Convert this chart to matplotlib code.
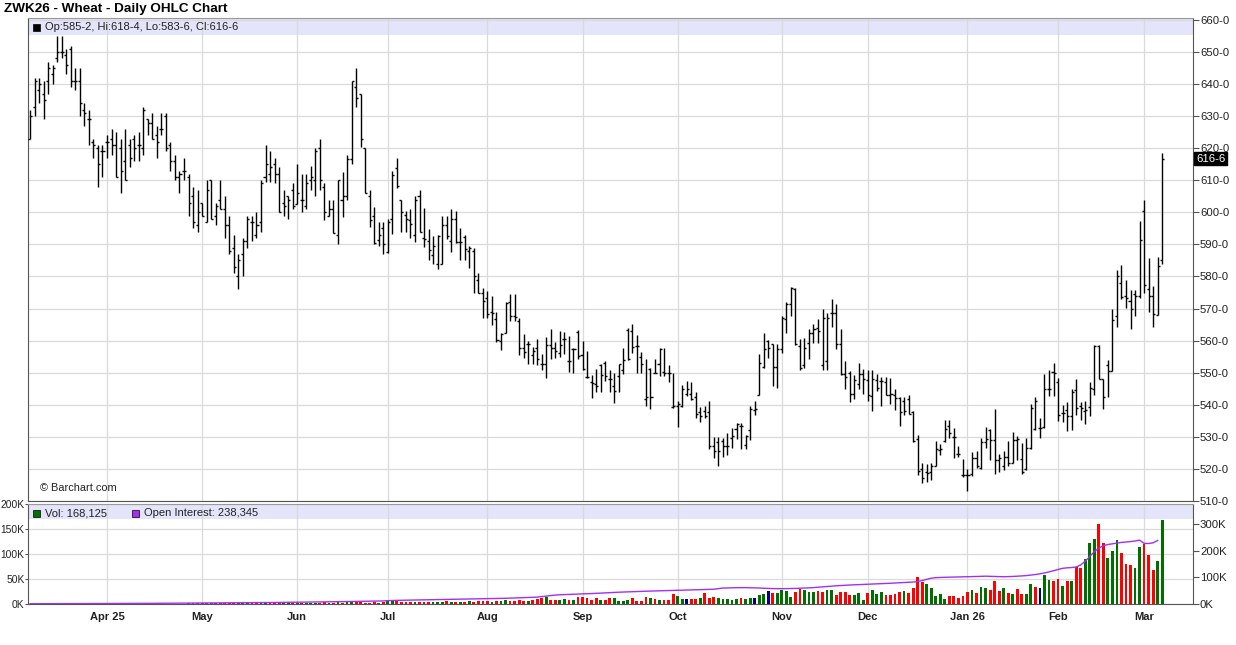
import numpy as np
import pandas as pd
import matplotlib
matplotlib.use('Agg')
import matplotlib.pyplot as plt
from matplotlib.patches import Rectangle

plt.rcParams['font.family'] = ['Liberation Sans', 'DejaVu Sans']

# Trading calendar of the ZWK26 chart (CBOT holidays removed).
START, END = '2025-03-07', '2026-03-06'
HOLIDAYS = ['2025-04-18', '2025-05-26', '2025-06-19', '2025-07-04', '2025-09-01',
            '2025-11-27', '2025-12-25', '2026-01-01', '2026-01-19', '2026-02-16']

# Daily OHLC, cents/bushel.
OPEN = [
    623, 633, 638, 637, 641, 643, 648, 650, 649, 651,
    641, 641, 632, 629, 622, 620, 619, 622, 623, 621,
    620, 616, 621, 623, 621, 620, 629, 628, 624, 626,
    630, 621, 616, 611, 613, 611, 605, 596, 603, 597,
    610, 599, 604, 601, 596, 589, 580, 587, 591, 597,
    593, 597, 611, 612, 615, 612, 603, 605, 607, 602.5,
    604, 602, 610, 610, 620, 608, 599, 601, 593, 604,
    605, 616.5, 639, 637, 620, 605, 599, 591.5, 595, 587.5,
    597.8, 613.8, 604, 599.3, 597.6, 592.8, 605, 592, 591, 586.6,
    583.8, 583.8, 596, 591, 598, 590.7, 592.4, 588, 588, 579,
    575, 573.4, 569, 566.7, 560, 562.3, 572, 567.7, 566, 557.8,
    559, 555.4, 557.8, 552.6, 552.6, 558.5, 557.8, 556, 560.4, 553.6,
    557.3, 562.7, 555.4, 548.6, 547.1, 546.4, 552.3, 553, 548, 546,
    549, 551, 563.4, 563, 558.4, 554.8, 541.8, 551.2, 550, 552.7,
    550.1, 550, 539.2, 539.7, 539.7, 543.3, 543.3, 542.3, 537.6, 538.1,
    537.8, 527.2, 528.4, 528.6, 527.3, 529.7, 532.5, 533.3, 527.6, 532,
    538.5, 543.2, 551.9, 559.9, 558.9, 551.9, 557.5, 566.9, 571.4, 576,
    558.3, 552.3, 559.4, 562.5, 563.8, 552.3, 553.6, 568.5, 568.5, 558.9,
    549.5, 549.8, 543.5, 546.4, 549.5, 547.7, 542.7, 547.7, 547.4, 547.1,
    542.9, 543.2, 542.2, 541.1, 541.9, 537.7, 529.2, 520, 519, 519,
    521, 525.8, 528.6, 533.5, 530, 524.7, 518.2, 518.2, 518.5, 523.4,
    520.3, 528.3, 532, 528.9, 522.9, 521, 523.8, 521.7, 529, 523.1,
    520, 526.6, 532.5, 532.8, 533, 544.8, 550.2, 547, 537.5, 538.5,
    536.4, 544.7, 539.5, 538, 539.3, 545, 558.4, 548, 552.5, 550.6,
    567.6, 578, 574, 572.4, 574.6, 573.8, 600.3, 576, 574, 568.1,
    585.25,
]
HIGH = [
    632, 642, 642, 641, 647, 646, 655, 655, 651, 652,
    645, 645, 634, 632, 623, 621, 621, 624, 626, 625,
    623, 626, 623, 624, 625, 633, 629, 631, 627, 631,
    631, 622, 618, 613, 617, 612, 608, 607, 603, 610,
    610, 603, 610, 605, 599, 593, 587, 592, 599, 599,
    600, 610, 621, 619, 617, 614, 607, 605, 609, 615,
    612, 612, 614.5, 620, 623, 609, 604, 604, 610, 612.5,
    618, 641, 645, 637, 620, 607, 601.7, 597, 597, 598,
    613, 617, 604, 600.4, 601, 605, 607, 601.4, 594.7, 592.6,
    592.8, 598.8, 599, 601, 600.4, 595.2, 592.8, 589.5, 589, 581.2,
    576.5, 575.4, 574, 568.8, 562.5, 572, 574.5, 574.5, 567.2, 562,
    560, 558, 560.6, 555.7, 561, 563.5, 559.6, 563, 562.7, 561.3,
    557.8, 563.3, 559.9, 556.8, 549.2, 551.3, 552.6, 553.8, 551, 550,
    552.7, 557.6, 564, 565.2, 561.8, 556.4, 554.3, 551.4, 554.3, 557.6,
    557.6, 552.4, 550, 541.2, 546.1, 547.5, 547.2, 543.9, 539.2, 539.7,
    541.2, 529.8, 529.8, 529.7, 531.3, 532.8, 534.2, 534.2, 530.7, 539.6,
    541.1, 555.7, 562.5, 560.2, 558.9, 558.9, 567.7, 571.9, 576.6, 576.3,
    560.4, 560.9, 563.5, 565.1, 566.7, 570, 568.7, 573.1, 571.4, 563.5,
    553.6, 550.5, 549.2, 552.9, 551.2, 550.8, 551, 549.5, 548.8, 548.8,
    548.4, 545, 542.5, 542.5, 543.2, 538, 530.7, 521.9, 521.4, 521.9,
    528.6, 527.9, 535.2, 535.2, 532.8, 527, 523.1, 520, 525.2, 525.5,
    529.7, 533.1, 532.3, 538.8, 524.5, 525.5, 528.6, 531.5, 530.2, 528.1,
    529.7, 540.4, 542.5, 535.9, 549.5, 551, 552.9, 548.4, 539.8, 540.8,
    544.9, 548, 540.8, 541.1, 547, 558.7, 558.7, 548, 553.9, 569.8,
    582.1, 583.7, 579, 575.9, 575.9, 597.2, 603.9, 585.7, 577.1, 586,
    618.5,
]
LOW = [
    623, 630, 634, 629, 637, 640, 647, 648, 643, 639,
    638, 630, 627, 621, 617, 608, 611, 617, 618, 611,
    606, 610, 614, 616, 616, 618, 624, 623, 617, 624,
    619, 613, 610, 606, 610, 599, 595, 594, 599, 597,
    598, 596, 601, 592, 587, 581, 576, 580, 589, 591,
    592, 594, 609.5, 609.5, 609, 600, 599, 598, 601, 602.5,
    600, 601, 607, 605, 607, 597.5, 599, 593.5, 590, 598.5,
    604, 615, 633, 620.5, 606, 595.5, 590, 589.5, 587, 587.4,
    593.4, 607.6, 594, 594, 592, 590.7, 594, 589.3, 585.3, 583.8,
    582.2, 583.8, 591.8, 587.6, 590.5, 585.3, 585.3, 582.7, 575, 575,
    567.2, 567.2, 564.8, 559.6, 557, 562.3, 566, 566, 555.4, 554.7,
    552.6, 552.6, 552.3, 551, 548.4, 554.2, 554.7, 555, 555.7, 550.2,
    549.8, 554.2, 551, 548.4, 542.2, 544, 544, 547.5, 543.9, 540.7,
    543.9, 549.6, 554, 556.3, 550, 550, 539.7, 538.6, 549.9, 549,
    549, 547.2, 538.9, 533.2, 539.2, 542.8, 541.5, 536, 534.7, 536,
    526.1, 523.5, 520.8, 523.8, 524.2, 526.6, 529.2, 526.3, 526.3, 529,
    536.7, 543.2, 551.6, 554.7, 546, 545.3, 556, 562.5, 567.7, 558.5,
    550.8, 551.6, 554.2, 559.4, 559.4, 551, 551, 564.4, 557.5, 549.2,
    545, 540.8, 541.7, 545, 543.5, 541.2, 538, 544.3, 539.6, 542.9,
    540.1, 538.5, 533.5, 536.7, 537, 528.4, 518.2, 515.6, 515.8, 516.5,
    521, 524.2, 528.3, 529.7, 523.4, 523.8, 517.5, 513, 517.7, 520.3,
    520, 526.6, 522.9, 518.5, 519, 519.6, 521, 521.7, 522.7, 518.5,
    519.6, 526.2, 532.1, 529.7, 532.8, 542.7, 542.7, 534.9, 534.6, 531.7,
    532, 536.9, 535.2, 534.1, 536.4, 543.2, 548, 538.7, 542.3, 550.6,
    564.4, 573, 570.2, 563.6, 567.6, 573.3, 574.8, 568.8, 564.4, 568.1,
    583.75,
]
CLOSE = [
    630, 641, 640, 635, 645, 645, 650, 650, 646, 641,
    641, 634, 631, 629, 621, 615, 619, 622, 621, 611,
    613, 610, 617, 620, 621, 632, 628, 623, 622, 626,
    620, 616, 611, 612, 613, 603, 597, 600, 599, 607,
    598, 602, 601, 596, 588, 583, 585, 591, 598, 597,
    596, 609, 615, 614, 612, 600, 602, 604, 602, 606,
    604, 609, 611, 619, 610, 600, 601, 593.5, 610, 605,
    616.5, 641, 635.5, 623, 606, 597.5, 590.5, 592.8, 590, 597,
    611.7, 608.3, 600, 597.8, 596.5, 604, 594, 591.6, 588.4, 589.5,
    592.6, 596.2, 592.6, 598, 590.7, 590.7, 588.5, 589, 580.2, 575,
    572.4, 568.2, 568.5, 560.2, 562, 571.7, 567.7, 567.5, 557.8, 556.5,
    559, 556.8, 554.2, 552.6, 558.5, 557.8, 556.8, 558.5, 560.6, 553.6,
    557.3, 555.2, 551.3, 548.6, 546.9, 546, 549.2, 549, 548, 544.4,
    552.7, 554, 554.3, 558, 558.4, 552.7, 542.3, 542.3, 550, 557.4,
    550, 550, 539.7, 540.2, 544.9, 545, 541.8, 537.1, 536.6, 536.4,
    527.2, 525.6, 525.6, 527.3, 527.3, 530.4, 533.9, 533.3, 530.2, 538.8,
    538.8, 553.1, 557.5, 557.8, 551.9, 557.5, 567.2, 571.4, 576.3, 558.9,
    551.6, 557.8, 562.5, 563.5, 563, 567, 567, 568.7, 558.9, 549.5,
    548.8, 543.5, 547.7, 549.5, 548.1, 542.9, 548.1, 545.3, 547.4, 543.2,
    543.5, 542.2, 537.7, 538, 537, 528.6, 519.3, 517.2, 518.8, 520.8,
    526.2, 526.2, 532.3, 531.2, 530, 524.5, 518.2, 518.2, 523.4, 521,
    528.3, 529.2, 528.9, 522.9, 523.4, 523.8, 521.7, 529, 529.2, 519,
    526.6, 539.1, 541.1, 532.8, 544.8, 544.8, 550, 536.7, 537.5, 536.4,
    543.9, 539, 539, 538.3, 545.2, 558.4, 548, 542.4, 550.6, 566.5,
    580.2, 573.6, 573.3, 569.8, 573.8, 591.4, 577.4, 574, 568.4, 583.3,
    616.75,
]

# Daily volume (thousands of contracts)
VOLUME_K = [
    0.3, 0.2, 0.4, 0.3, 0.2, 0.3, 0.5, 0.4, 0.3, 0.2,
    0.3, 0.4, 0.3, 0.5, 0.4, 0.6, 0.3, 0.4, 0.5, 0.4,
    0.6, 0.5, 0.4, 0.6, 0.5, 0.7, 0.5, 0.6, 0.8, 0.6,
    0.7, 0.9, 0.8, 1.0, 0.9, 1.2, 1.4, 1.1, 1.3, 1.6,
    1.2, 1.4, 1.5, 1.8, 1.9, 1.6, 1.4, 1.7, 1.5, 1.3,
    1.6, 1.8, 2.1, 1.7, 1.9, 2.2, 1.6, 1.5, 1.8, 2.6,
    2.4, 2.0, 2.2, 2.8, 2.5, 3.1, 2.7, 2.4, 3.3, 2.9,
    3.5, 4.2, 3.6, 3.9, 3.0, 2.6, 3.2, 2.8, 3.4, 8.5,
    6.8, 5.2, 4.6, 4.1, 3.8, 4.4, 4.0, 4.9, 3.6, 3.9,
    4.7, 3.2, 5.1, 4.3, 3.5, 4.0, 4.5, 5.8, 4.2, 5.5,
    6.4, 5.6, 4.8, 5.9, 6.6, 7.1, 6.3, 5.8, 7.4, 6.9,
    6.4, 7.8, 9.5, 12.2, 13.6, 7.6, 8.3, 7.1, 9.4, 8.2,
    7.4, 14.2, 13.1, 11.5, 8.8, 11.2, 8.1, 7.6, 12.3, 12,
    7, 7, 9, 12, 7, 7, 15, 12, 11, 9,
    9, 9, 21, 17, 10, 10, 10, 10, 12, 23,
    12, 15, 12, 10, 10, 9, 10, 12, 11, 12,
    12, 19, 21, 27, 23, 23, 29, 27, 15, 25,
    31, 29, 25, 25, 26, 25, 29, 29, 19, 25,
    25, 19, 19, 23, 9, 23, 29, 21, 25, 19,
    19, 21, 25, 27, 23, 33, 55, 45, 41, 33,
    17, 21, 11, 17, 17, 13, 17, 25, 29, 23,
    35, 33, 29, 47, 27, 33, 23, 21, 31, 21,
    21, 41, 35, 33, 59, 49, 47, 51, 37, 47,
    47, 75, 73, 90, 123, 131, 160, 123, 93, 107,
    129, 103, 81, 79, 73, 115, 121, 99, 69, 87,
    168.125,
]
# Volume bar colour codes for the recent sessions (g = up, r = down, n = unchanged)
VOL_DIR_RECENT = ("ggggrrrrgr" "grrrggnrrg" "rrrgggggrg" "gnggnrgggg" "rrgggrrggr"
                  "rrrgggrggg" "rrrrgrrrrg" "ggggrrrrrg" "rggrrrgrgr" "rggrnggrrg"
                  "rgrrgggrrg" "ggrrrggrrr" "gg")

# Open interest (thousands), not yet published for the last session
OPEN_INT_K = [
    1.0, 1.0, 1.1, 1.1, 1.2, 1.2, 1.3, 1.3, 1.4, 1.4, 1.5, 1.5, 1.6, 1.6, 1.7, 1.7, 1.8,
    1.9, 1.9, 2.0, 2.1, 2.1, 2.2, 2.3, 2.3, 2.4, 2.5, 2.5, 2.6, 2.7, 2.8, 2.8, 2.9, 3.0,
    3.1, 3.2, 3.2, 3.3,
    3.4, 3.5, 3.6, 3.7, 3.9, 4.0, 4.1, 4.3, 4.4, 4.5, 4.7, 4.8, 5.0, 5.1, 5.3, 5.4, 5.6,
    5.8, 5.9, 6.1, 6.3,
    6.5, 6.7, 6.9, 7.1, 7.4, 7.6, 7.8, 8.1, 8.3, 8.6, 8.8, 9.1, 9.4, 9.7, 10.0, 10.2,
    10.5, 10.8, 11.1, 11.5,
    12.5, 13.2, 13.6, 13.9, 14.2, 14.6, 14.9, 15.3, 15.6, 15.9, 16.2, 16.4, 16.7, 17.0,
    17.2, 17.5, 17.8, 18.0, 18.3, 18.6, 18.9, 19.2,
    19.5, 19.9, 20.3, 20.8, 21.4, 22.0, 22.5, 23.0, 23.6, 24.2, 24.9, 25.8, 27.5, 29.6,
    31.8, 33.5, 34.6, 35.2, 35.9, 36.4, 36.8,
    37.3, 38.0, 39.2, 40.1, 41.0, 41.9, 42.8, 43.6, 44.2, 44.9, 45.5, 46.1, 46.8, 47.4,
    48.0, 48.5, 49.1, 49.6, 50.2, 50.7, 51.2,
    51.6, 52.1, 52.5, 53.0, 53.4, 53.9, 54.3, 54.8, 55.3, 57.5, 59.8, 60.4, 60.8, 61.2,
    61.4, 61.3, 61.0, 60.5, 59.8, 59.0, 58.3, 57.8, 57.5,
    57.4, 57.6, 57.9, 58.4, 59.0, 59.8, 60.6, 61.5, 62.9, 64.5, 66.0, 67.2, 68.3, 69.4,
    70.3, 71.2, 71.9, 72.5, 73.1,
    73.8, 74.6, 75.4, 76.2, 77.0, 77.8, 78.7, 79.5, 80.3, 81.2, 82.4, 84.2, 88.0, 92.5,
    96.8, 98.9, 99.6, 100.1, 100.5, 100.8, 101.2, 101.5,
    102.0, 102.6, 103.2, 103.9, 104.3, 103.8, 103.0, 102.4, 102.2, 102.6, 103.3, 104.2,
    105.3, 106.5, 108.4, 110.6, 113.2, 116.5, 120.3, 124.8,
    129.7, 133.8, 135.6, 136.7, 138.9, 146.5, 160.2, 178.5, 196.3, 209.8, 218.4, 223.1,
    225.6, 228.3, 230.9, 232.4, 234.1, 236.2, 239.6,
    227.4, 226.8, 229.5, 238.345,
]

PRICE_TICKS = list(range(510, 661, 10))
VOL_TICKS_K = [0, 50, 100, 150, 200]
OI_TICKS_K = [0, 100, 200, 300]

W, H = 1236, 645
GREEN, RED, NAVY = '#006f00', '#ff0000', '#000080'
PURPLE = '#a330f0'
BAND = '#e4e4fa'
GRID = '#dadada'
AXIS_FS = 8.2
LEGEND_FS = 8


def px_rect(left, top, right, bottom):
    return [left / W, 1 - bottom / H, (right - left) / W, (bottom - top) / H]


def eighths(p):
    whole = int(np.floor(p + 1e-9))
    return f'{whole}-{int(round((p - whole) * 8))}'


def main():
    n = len(CLOSE)
    x = np.arange(n)
    dates = pd.bdate_range(START, END, freq='C', holidays=HOLIDAYS)[:n]
    month_start = [i for i in range(1, n) if dates[i].month != dates[i - 1].month]
    month_lab = []
    for k, i in enumerate(month_start):
        d = dates[i]
        month_lab.append(d.strftime('%b') + (d.strftime(' %y') if k == 0 or d.month == 1 else ''))

    fig = plt.figure(figsize=(W / 100, H / 100), dpi=100)
    fig.patch.set_facecolor('white')

    x_lo, x_hi = -0.45, n - 1 + 6.8
    # ---- price panel ----
    ax = fig.add_axes(px_rect(28, 18, 1193, 501))
    ax.set_xlim(x_lo, x_hi)
    ax.set_ylim(510, 660.6)
    ax.add_patch(Rectangle((0, 1 - 17 / 483), 1, 17 / 483, transform=ax.transAxes,
                           facecolor=BAND, edgecolor='none', zorder=0))
    ax.vlines(x, LOW, HIGH, color='black', lw=1.0, zorder=3)
    ax.hlines(OPEN, x - 0.45, x, color='black', lw=1.0, zorder=3)
    ax.hlines(CLOSE, x, x + 0.45, color='black', lw=1.0, zorder=3)

    ax.set_yticks(PRICE_TICKS)
    ax.set_yticklabels([f'{p}-0' for p in PRICE_TICKS])
    ax.yaxis.tick_right()
    ax.tick_params(axis='y', direction='out', length=4, width=0.8, color='#555555',
                   labelsize=AXIS_FS, labelcolor='#222222', pad=1)
    ax.set_xticks(month_start)
    ax.tick_params(axis='x', length=0, labelbottom=False)
    ax.grid(True, color=GRID, lw=0.9, zorder=0)
    ax.set_axisbelow(True)
    for side in ['left', 'right', 'bottom']:
        ax.spines[side].set_color('#555555')
    ax.spines['top'].set_color('#999999')

    ax.text(1.0 + 3 / 1165, CLOSE[-1], eighths(CLOSE[-1]), transform=ax.get_yaxis_transform(),
            fontsize=AXIS_FS, color='white', va='center', ha='left',
            bbox=dict(boxstyle='square,pad=0.15', facecolor='black', edgecolor='black'))

    ax.add_patch(Rectangle((5 / 1165, 1 - 13 / 483), 7 / 1165, 7 / 483, transform=ax.transAxes,
                           facecolor='black', edgecolor='black', lw=0.5, zorder=4))
    ax.text(17 / 1165, 1 - 9.5 / 483,
            f'Op:{eighths(OPEN[-1])}, Hi:{eighths(HIGH[-1])}, '
            f'Lo:{eighths(LOW[-1])}, Cl:{eighths(CLOSE[-1])}',
            transform=ax.transAxes, fontsize=LEGEND_FS, va='center', ha='left',
            color='#222222', zorder=4)
    ax.text(12 / 1165, 13 / 483, '\u00a9 Barchart.com', transform=ax.transAxes,
            fontsize=7.9, va='center', ha='left', color='#222222')

    fig.text(4 / W, 1 - 9 / H, 'ZWK26 - Wheat - Daily OHLC Chart', fontsize=9.7,
             fontweight='bold', va='center', ha='left')

    # ---- volume / open interest panel ----
    av = fig.add_axes(px_rect(28, 504, 1193, 604))
    av.set_xlim(x_lo, x_hi)
    av.set_ylim(0, 200)
    av.add_patch(Rectangle((0, 0.85), 1, 0.15, transform=av.transAxes,
                           facecolor=BAND, edgecolor='none', zorder=0))
    chg = np.diff(CLOSE, prepend=CLOSE[0])
    n_old = n - len(VOL_DIR_RECENT)
    codes = ['g' if c >= 0 else 'r' for c in chg[:n_old]] + list(VOL_DIR_RECENT)
    cmap = {'g': GREEN, 'r': RED, 'n': NAVY}
    av.bar(x, VOLUME_K, width=0.62, color=[cmap[c] for c in codes], zorder=2)
    av.set_yticks(VOL_TICKS_K)
    av.set_yticklabels([f'{v}K' for v in VOL_TICKS_K])
    av.tick_params(axis='y', direction='out', length=2, width=0.8, color='#555555',
                   labelsize=7.4, labelcolor='#222222', pad=0.5)
    av.set_xticks(month_start)
    av.set_xticklabels(month_lab, fontsize=8, fontweight='bold', color='#222222')
    av.tick_params(axis='x', length=0, pad=6)
    av.grid(True, color=GRID, lw=0.9, zorder=0)
    av.set_axisbelow(True)
    for side in ['left', 'right', 'bottom']:
        av.spines[side].set_color('#555555')
    av.spines['top'].set_color('#999999')

    ao = av.twinx()
    ao.set_xlim(x_lo, x_hi)
    ao.set_ylim(0, 375)
    ao.plot(x[:len(OPEN_INT_K)], OPEN_INT_K, color=PURPLE, lw=1.0, zorder=3)
    ao.set_yticks(OI_TICKS_K)
    ao.set_yticklabels([f'{v}K' for v in OI_TICKS_K])
    ao.tick_params(axis='y', direction='out', length=4, width=0.8, color='#555555',
                   labelsize=AXIS_FS, labelcolor='#222222', pad=1)
    for side in ao.spines:
        ao.spines[side].set_visible(False)

    av.add_patch(Rectangle((5 / 1165, 0.875), 7 / 1165, 0.07, transform=av.transAxes,
                           facecolor=GREEN, edgecolor='black', lw=0.5, zorder=4))
    av.text(17 / 1165, 0.91, f'Vol: {VOLUME_K[-1] * 1000:,.0f}', transform=av.transAxes,
            fontsize=LEGEND_FS, va='center', ha='left', color='#222222', zorder=4)
    av.add_patch(Rectangle((104 / 1165, 0.875), 7 / 1165, 0.07, transform=av.transAxes,
                           facecolor=PURPLE, edgecolor='black', lw=0.5, zorder=4))
    av.text(116 / 1165, 0.91, f'Open Interest: {OPEN_INT_K[-1] * 1000:,.0f}',
            transform=av.transAxes, fontsize=LEGEND_FS, va='center', ha='left',
            color='#222222', zorder=4)

    fig.savefig('out.png', dpi=100)


if __name__ == '__main__':
    main()
